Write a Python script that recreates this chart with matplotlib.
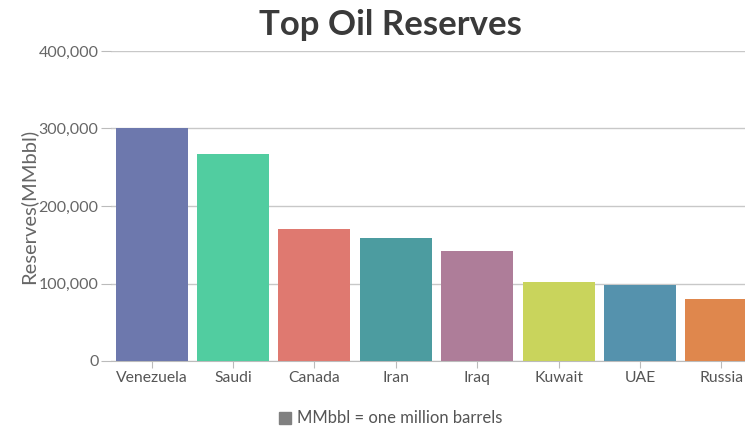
import matplotlib
matplotlib.use("Agg")
import matplotlib.pyplot as plt
from matplotlib.ticker import FuncFormatter

# data
countries = ["Venezuela", "Saudi", "Canada", "Iran", "Iraq", "Kuwait", "UAE", "Russia"]
reserves = [300878, 266455, 169709, 158400, 142503, 101500, 97800, 80000]
colors = ["#6D78AD", "#51CDA0", "#DF7970", "#4C9CA0", "#AE7D99", "#C9D45C", "#5592AD", "#DF874D"]

plt.rcParams["font.family"] = ["Lato", "DejaVu Sans"]

fig = plt.figure(figsize=(7.45, 4.26), dpi=100)
ax = fig.add_axes([111 / 745, 65 / 426, 651 / 745, 310 / 426])

x = range(len(countries))
ax.bar(x, reserves, width=0.885, color=colors, zorder=3)

ax.set_xlim(-0.5, len(countries) - 0.5)
ax.set_ylim(0, 400000)
ax.set_yticks([0, 100000, 200000, 300000, 400000])
ax.yaxis.set_major_formatter(FuncFormatter(lambda v, p: f"{int(v):,}"))
ax.set_xticks(list(x))
ax.set_xticklabels(countries)

ax.grid(axis="y", color="#C8C8C8", linewidth=1, zorder=0)
for s in ["left", "right", "top"]:
    ax.spines[s].set_visible(False)
ax.spines["bottom"].set_color("#BBBBBB")
ax.tick_params(axis="y", length=7, color="#BBBBBB", labelcolor="#666666", labelsize=11.5, pad=2)
ax.tick_params(axis="x", length=5, color="#BBBBBB", labelcolor="#555555", labelsize=11.3, pad=2)

ax.set_ylabel("Reserves(MMbbl)", color="#666666", fontsize=14.5, labelpad=1)

fig.text(390 / 745, 1 - 25 / 426, "Top Oil Reserves", ha="center", va="center",
         fontsize=25, fontweight="bold", color="#3A3A3A")

# legend at the bottom
fig.patches.append(plt.Rectangle((279 / 745, 1 - 424 / 426), 12 / 745, 12 / 426,
                                 transform=fig.transFigure, color="#808080"))
fig.text(297 / 745, 1 - 418 / 426, "MMbbl = one million barrels", ha="left", va="center",
         fontsize=12, color="#555555")

fig.savefig("out.png", dpi=100)
